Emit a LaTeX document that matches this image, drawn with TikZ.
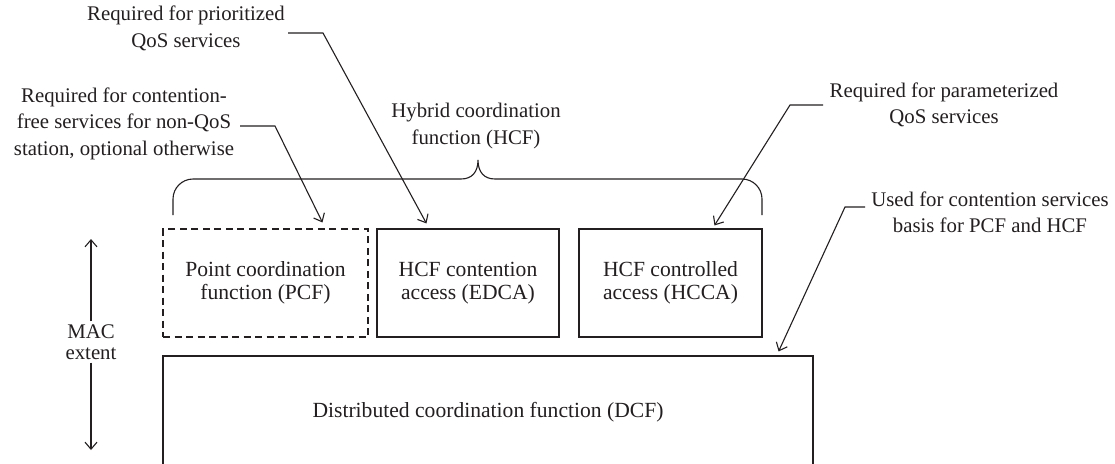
\documentclass[tikz,border=0pt]{standalone}
\usepackage{fontspec}
\setmainfont{Liberation Serif}
\usetikzlibrary{arrows.meta,calc}
\definecolor{ink}{RGB}{35,31,32}
\begin{document}
\begin{tikzpicture}[x=1pt,y=-1pt,
  every node/.style={text=ink},
  ln/.style={draw=ink,line width=1.1pt},
  arr/.style={ln,-{Straight Barb[length=7pt,width=12pt,line width=1.1pt]}},
  box/.style={ln,minimum height=108pt,inner sep=0pt,align=center,
    font=\fontsize{21.6}{23.5}\selectfont},
  ann/.style={align=center,inner sep=1pt,font=\fontsize{20.8}{26.5}\selectfont}]
\useasboundingbox (0,0) rectangle (1115,463);
\clip (0,0) rectangle (1115,463);
\fill[white] (0,0) rectangle (1115,463);
% boxes
\node[box,dashed,dash pattern=on 7pt off 4.5pt,minimum width=205pt] (pcf) at (265.5,283) {Point coordination\\function (PCF)};
\node[box,minimum width=182pt] (edca) at (468,283) {HCF contention\\access (EDCA)};
\node[box,minimum width=183pt] (hcca) at (670.5,283) {HCF controlled\\access (HCCA)};
\node[box,minimum width=650pt,minimum height=112pt] (dcf) at (488,412) {Distributed coordination function (DCF)};
% annotations
\node[ann] (a1) at (186,28.5) {Required for prioritized\\QoS services};
\node[ann] (a2) at (124,123.5) {Required for contention-\\free services for non-QoS\\station, optional otherwise};
\node[ann] (hcf) at (476,126) {Hybrid coordination\\function (HCF)};
\node[ann] (a4) at (944,105) {Required for parameterized\\QoS services};
\node[ann,font=\fontsize{20.8}{25.5}\selectfont] (a5) at (990,212.5) {Used for contention services\\basis for PCF and HCF};
\node[ann,inner sep=3pt,font=\fontsize{20.8}{21}\selectfont] (mac) at (91,342) {MAC\\extent};
% brace
\draw[ln] (173,215) -- (173,199) .. controls (173,188) and (182,179) .. (193,179)
  -- (461,179) .. controls (472,179) and (478,172) .. (478,160)
  .. controls (478,172) and (484,179) .. (495,179)
  -- (742,179) .. controls (753,179) and (762,188) .. (762,199) -- (762,215);
% leaders
\coordinate (s1) at (288,33); \coordinate (k1) at (323,33);
\draw[arr] (s1) -- (k1) -- ($(edca.north west)+(50,-5)$);
\coordinate (s2) at (240,126); \coordinate (k2) at (275,126);
\draw[arr] (s2) -- (k2) -- ($(pcf.north west)+(160,-6)$);
\coordinate (s4) at (823,105); \coordinate (k4) at (790,105);
\draw[arr] (s4) -- (k4) -- ($(hcca.north west)+(136,-3)$);
\coordinate (s5) at (865,207); \coordinate (k5) at (845,207);
\draw[arr] (s5) -- (k5) -- ($(dcf.north east)+(-35,-4)$);
% MAC extent
\coordinate (mtop) at (91,239); \coordinate (mbot) at (91,450);
\draw[arr] (mac.north) -- (mtop);
\draw[arr] (mac.south) -- (mbot);
\end{tikzpicture}
\end{document}
